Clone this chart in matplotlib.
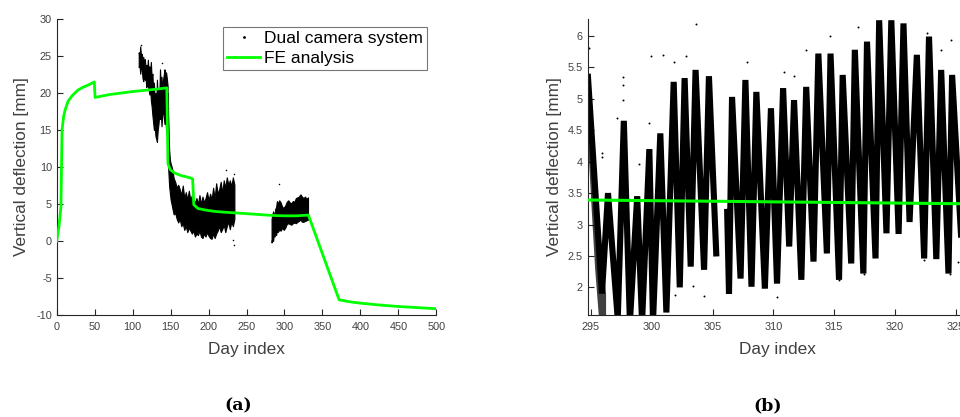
import matplotlib
matplotlib.use("Agg")
import matplotlib.pyplot as plt
from matplotlib.lines import Line2D

plt.rcParams['font.family'] = ['Liberation Sans', 'DejaVu Sans']
plt.rcParams['axes.unicode_minus'] = False

# ---------------- Panel (a) data ----------------
fe_days = [0, 3, 5.5, 7, 9, 11, 15, 20, 28, 35, 42, 49.5, 50.5, 60, 70, 85, 100, 115,
           130, 145, 146.5, 148, 150, 155, 160, 165, 170, 175, 179, 180.5, 186, 195,
           208, 220, 235, 250, 270, 285, 300, 315, 331.5, 372, 385, 400, 425, 450, 475, 500]
fe_vals = [0, 2.0, 4.6, 15.0, 16.8, 17.7, 18.9, 19.6, 20.4, 20.8, 21.1, 21.5, 19.4, 19.6,
           19.8, 20.0, 20.2, 20.35, 20.5, 20.7, 10.5, 10.0, 9.6, 9.2, 9.0, 8.8, 8.7, 8.55,
           8.4, 4.9, 4.4, 4.2, 4.0, 3.9, 3.8, 3.7, 3.55, 3.45, 3.4, 3.4, 3.5, -7.95, -8.2,
           -8.4, -8.65, -8.85, -9.0, -9.15]

# measured band (envelope of camera points), segment 1
cam1_days = [108, 109, 110, 111, 112, 113, 114, 115, 116, 117, 118, 119, 120, 121, 122,
             123, 124, 125, 126, 127, 128, 129, 130, 131, 132, 133, 134, 135, 136, 137,
             138, 139, 140, 141, 142, 143, 144, 145, 146]
cam1_hi = [25.5, 24.8, 26.3, 25.0, 25.3, 24.2, 24.9, 24.0, 24.6, 23.4, 23.8, 22.6, 24.5,
           23.0, 23.6, 22.8, 24.2, 22.0, 22.6, 20.5, 21.4, 19.0, 20.0, 18.6, 21.8, 19.5,
           20.5, 19.0, 23.2, 21.0, 22.2, 20.0, 21.8, 22.5, 23.2, 21.5, 22.8, 22.0, 21.0]
cam1_lo = [23.5, 23.8, 22.6, 23.8, 23.2, 22.0, 21.6, 22.5, 21.8, 22.0, 20.8, 21.2, 21.0,
           20.5, 19.8, 20.6, 19.0, 18.2, 17.0, 16.0, 15.0, 15.8, 14.2, 13.8, 13.4, 15.0,
           15.8, 17.0, 16.5, 17.8, 15.5, 17.0, 18.0, 16.8, 15.8, 17.0, 15.0, 14.5, 12.5]
# segment 2
cam2_days = [146, 147, 148, 149, 150, 152, 154, 156, 158, 160, 162, 164, 166, 168, 170,
             172, 174, 176, 178, 180, 182, 184, 186, 188, 190, 192, 194, 196, 198, 200,
             202, 204, 206, 208, 210, 212, 214, 216, 218, 220, 222, 224, 226, 228, 230,
             232, 234]
cam2_hi = [20, 16, 12.5, 11, 10.5, 9.8, 8.5, 8.0, 7.2, 7.6, 7.0, 6.2, 7.5, 5.8, 6.6,
           5.6, 6.8, 5.5, 6.2, 5.6, 5.2, 5.8, 5.0, 6.2, 5.0, 6.0, 5.2, 5.8, 6.6, 5.5,
           6.4, 5.6, 7.2, 5.8, 7.8, 6.4, 7.0, 8.0, 6.5, 8.2, 7.2, 8.6, 7.6, 8.2, 7.4,
           8.6, 7.6]
cam2_lo = [11.5, 9.5, 7.5, 6.5, 5.6, 4.6, 3.6, 3.8, 3.0, 2.5, 3.0, 2.0, 2.4, 1.5, 2.0,
           1.2, 1.8, 1.4, 1.0, 1.4, 0.6, 1.0, 0.8, 1.4, 0.6, 0.4, 1.0, 0.6, 1.2, 0.7,
           0.4, 0.3, 1.0, 0.4, 1.0, 1.4, 2.0, 1.2, 1.6, 2.2, 1.2, 2.0, 2.6, 1.6, 2.6,
           2.0, 3.0]
# segment 3
cam3_days = [283, 284, 285, 286, 287, 288, 289, 290, 291, 293, 295, 297, 299, 301, 303,
             305, 307, 309, 311, 313, 315, 317, 319, 321, 323, 325, 327, 329, 331]
cam3_hi = [3.0, 3.6, 4.0, 3.2, 3.8, 4.4, 4.6, 5.4, 5.0, 5.5, 5.2, 4.6, 4.5, 4.8, 5.3,
           5.5, 5.2, 5.1, 5.4, 5.3, 5.8, 5.9, 6.0, 6.3, 6.0, 5.8, 6.0, 5.7, 5.9]
cam3_lo = [-0.2, 0.6, 0.0, 1.0, 0.6, 1.2, 0.8, 1.6, 1.2, 1.5, 1.4, 1.8, 1.5, 1.8, 2.3,
           2.4, 2.3, 2.2, 2.4, 2.5, 2.4, 2.6, 2.7, 2.9, 2.6, 2.6, 2.7, 2.8, 2.9]
# isolated camera points
out_a_days = [110.5, 222.5, 233.0, 232.6, 233.2, 292.4, 147.0, 138.0]
out_a_vals = [26.5, 9.6, 9.0, 0.2, -0.5, 7.7, 18.0, 24.0]

# ---------------- Panel (b) data ----------------
zig_days = [294.75, 295.9, 296.4, 297.2, 297.7, 298.2, 298.8, 299.2, 299.8, 300.1, 300.7,
            301.2, 301.8, 302.3, 302.7, 303.2, 303.6, 304.3, 304.7, 305.3]
zig_vals = [5.35, 1.9, 3.5, 1.5, 4.65, 1.45, 3.45, 1.45, 4.2, 1.45, 4.45, 1.6, 5.27, 2.0,
            5.33, 2.33, 5.46, 2.28, 5.36, 2.54]
zig2_days = [306.2, 306.35, 306.6, 307.3, 307.7, 308.2, 308.6, 309.3, 309.8, 310.3, 310.8,
             311.3, 311.7, 312.3, 312.7, 313.3, 313.7, 314.4, 314.7, 315.4, 315.7, 316.4,
             316.7, 317.4, 317.7, 318.4, 318.7, 319.3, 319.7, 320.3, 320.7, 321.2, 321.8,
             322.4, 322.8, 323.4, 323.8, 324.4, 324.7, 325.5]
zig2_vals = [3.2, 1.9, 5.03, 2.14, 5.3, 2.01, 5.11, 1.98, 4.85, 2.06, 5.17, 2.65, 4.98, 2.12,
             5.19, 2.41, 5.72, 2.54, 5.72, 2.12, 5.38, 2.38, 5.78, 2.22, 5.91, 2.46, 6.25,
             2.86, 6.25, 2.85, 6.2, 3.04, 5.7, 2.46, 5.99, 2.45, 5.46, 2.22, 5.38, 2.6]
# dense cloud of points at the start of the window
cloud_days = [294.75, 295.0, 295.3, 295.6, 295.9, 296.2]
cloud_hi = [5.0, 4.3, 3.4, 2.9, 2.4, 1.9]
cloud_lo = [4.2, 3.3, 2.3, 1.56, 1.56, 1.56]
out_b_days = [294.86, 303.61, 299.9, 300.9, 297.6, 297.6, 297.6, 295.9, 295.9, 297.1,
              298.95, 299.8, 301.85, 302.8, 307.8, 310.9, 311.7, 312.7, 314.66, 317.0,
              322.67, 323.76, 324.6, 303.4, 304.3, 310.27, 315.4, 301.9, 314.9, 325.16,
              324.5, 322.4, 317.45]
out_b_vals = [5.81, 6.19, 5.68, 5.7, 5.34, 5.22, 4.98, 4.13, 4.08, 4.69, 3.97, 4.61, 5.59,
              5.68, 5.58, 5.42, 5.36, 5.77, 6.0, 6.15, 6.05, 5.78, 5.93, 2.02, 1.86, 1.85,
              2.12, 1.88, 5.14, 2.41, 2.22, 2.44, 2.21]
fe_b_days = [294.7, 325.9]
fe_b_vals = [3.39, 3.33]

GREEN = '#00ff00'
TXT = '#404040'
SPINE = '#262626'

fig = plt.figure(figsize=(9.6, 4.17), dpi=100)
axA = fig.add_axes([0.0591, 0.2446, 0.3954, 0.7098])
axB = fig.add_axes([0.6122, 0.2446, 0.3944, 0.7098])


def style(ax):
    for s in ['top', 'right']:
        ax.spines[s].set_visible(False)
    for s in ['left', 'bottom']:
        ax.spines[s].set_color(SPINE)
        ax.spines[s].set_linewidth(0.8)
    ax.tick_params(direction='in', length=4, width=0.8, color=SPINE,
                   labelsize=7.8, labelcolor=TXT)
    ax.tick_params(axis='x', pad=5)
    ax.tick_params(axis='y', pad=3.5)


# ---- panel (a)
for d, lo, hi in [(cam1_days, cam1_lo, cam1_hi), (cam2_days, cam2_lo, cam2_hi),
                  (cam3_days, cam3_lo, cam3_hi)]:
    axA.fill_between(d, lo, hi, color='black', lw=0.8, zorder=2)
axA.scatter(out_a_days, out_a_vals, s=1.2, color='black', lw=0, zorder=2)
axA.plot(fe_days, fe_vals, color=GREEN, lw=2, zorder=3)
axA.set_xlim(0, 500)
axA.set_ylim(-10, 30)
axA.set_xticks(range(0, 501, 50))
axA.set_yticks(range(-10, 31, 5))
style(axA)
axA.set_xlabel('Day index', fontsize=12.4, color=TXT, va='center')
axA.xaxis.set_label_coords(0.5, -0.115)
axA.set_ylabel('Vertical deflection [mm]', fontsize=12.4, color=TXT, va='center')
axA.yaxis.set_label_coords(-0.094, 0.5)
handles = [Line2D([], [], color='black', marker='.', markersize=2, ls='none'),
           Line2D([], [], color=GREEN, lw=2)]
leg = axA.legend(handles, ['Dual camera system', 'FE analysis'], loc='upper right',
                 bbox_to_anchor=(0.9755, 0.973), fontsize=12.5, frameon=True,
                 fancybox=False, borderaxespad=0, handlelength=1.9, handletextpad=0.2,
                 labelspacing=0.25, borderpad=0.25)
leg.get_frame().set_edgecolor('#555555')
leg.get_frame().set_linewidth(0.8)
for t in leg.get_texts():
    t.set_color('black')

# ---- panel (b)
axB.fill_between(cloud_days, cloud_lo, cloud_hi, color='black', lw=0, alpha=0.75, zorder=2)
axB.plot(zig_days, zig_vals, color='black', lw=4.4, solid_joinstyle='miter', zorder=2)
axB.plot(zig2_days, zig2_vals, color='black', lw=4.4, solid_joinstyle='miter', zorder=2)
axB.scatter(out_b_days, out_b_vals, s=2, color='black', lw=0, zorder=2)
axB.plot(fe_b_days, fe_b_vals, color=GREEN, lw=2.2, zorder=3)
axB.set_xlim(294.73, 325.87)
axB.set_ylim(1.56, 6.27)
axB.set_xticks(range(295, 326, 5))
axB.set_yticks([2, 2.5, 3, 3.5, 4, 4.5, 5, 5.5, 6])
axB.set_yticklabels(['2', '2.5', '3', '3.5', '4', '4.5', '5', '5.5', '6'])
style(axB)
axB.set_xlabel('Day index', fontsize=12.4, color=TXT, va='center')
axB.xaxis.set_label_coords(0.5, -0.115)
axB.set_ylabel('Vertical deflection [mm]', fontsize=12.4, color=TXT, va='center')
axB.yaxis.set_label_coords(-0.089, 0.5)

fig.text(238 / 960, 0.0264, '(a)', family='DejaVu Serif', fontweight='bold',
         fontsize=12.5, ha='center', va='center', color='black')
fig.text(768 / 960, 0.0264, '(b)', family='DejaVu Serif', fontweight='bold',
         fontsize=12.5, ha='center', va='center', color='black')

fig.savefig('out.png', dpi=100)
